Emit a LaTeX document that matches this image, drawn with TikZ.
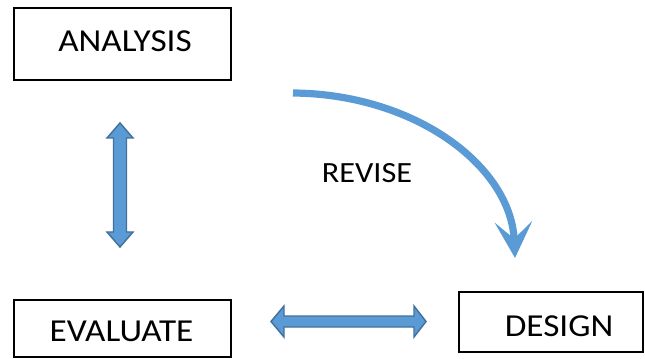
\documentclass[tikz,border=0pt]{standalone}
\usepackage{fontspec}
\setmainfont[FakeStretch=1.1]{Carlito}
\usetikzlibrary{arrows.meta}
\definecolor{flow}{HTML}{5B9BD5}
\definecolor{flowedge}{HTML}{41719C}
\begin{document}
\begin{tikzpicture}[x=0.75pt,y=-0.75pt,
  stage/.style={draw=black,line width=1.3pt,minimum width=#1,inner sep=0pt},
  stagetext/.style={font=\fontsize{24pt}{24pt}\selectfont,inner sep=0pt,text height=15.5pt,text depth=0pt},
  blockarrow/.style={fill=flow,draw=flowedge,line width=1.1pt,line join=miter},
  revarrow/.style={draw=flow,line width=5.4pt,-{Stealth[length=27pt,width=28pt,inset=12.5pt]}}]
\useasboundingbox (0,0) rectangle (645,359);

% stage boxes
\node[stage=217*0.75pt,minimum height=72*0.75pt] (analysis) at (122.5,44) {};
\node[stage=217*0.75pt,minimum height=57*0.75pt] (evaluate) at (122.5,328.5) {};
\node[stage=184*0.75pt,minimum height=60*0.75pt] (design) at (551,322) {};

% stage labels
\node[stagetext] (analysis-t) at (125,41) {ANALYSIS};
\node[stagetext] (evaluate-t) at (121.5,331) {EVALUATE};
\node[stagetext] (design-t) at (559,326) {DESIGN};
\node[stagetext,font=\fontsize{22pt}{22pt}\selectfont,text height=14.2pt] (revise) at (367,173.5) {REVISE};

% two-way block arrow between analysis and evaluate
\draw[blockarrow] (120,123) -- (133,138) -- (126.5,138) -- (126.5,232) -- (133,232)
  -- (120,247) -- (107,232) -- (113.5,232) -- (113.5,138) -- (107,138) -- cycle;

% two-way block arrow between evaluate and design
\draw[blockarrow] (271,321.5) -- (284,306) -- (284,316) -- (414,316) -- (414,306)
  -- (426,321.5) -- (414,337) -- (414,327) -- (284,327) -- (284,337) -- cycle;

% revise loop from analysis towards design
\coordinate (rev-a) at (293,93);
\coordinate (rev-b) at (515,258);
\draw[revarrow] (rev-a) .. controls (415,94) and (511,166) .. (rev-b);
\end{tikzpicture}
\end{document}
